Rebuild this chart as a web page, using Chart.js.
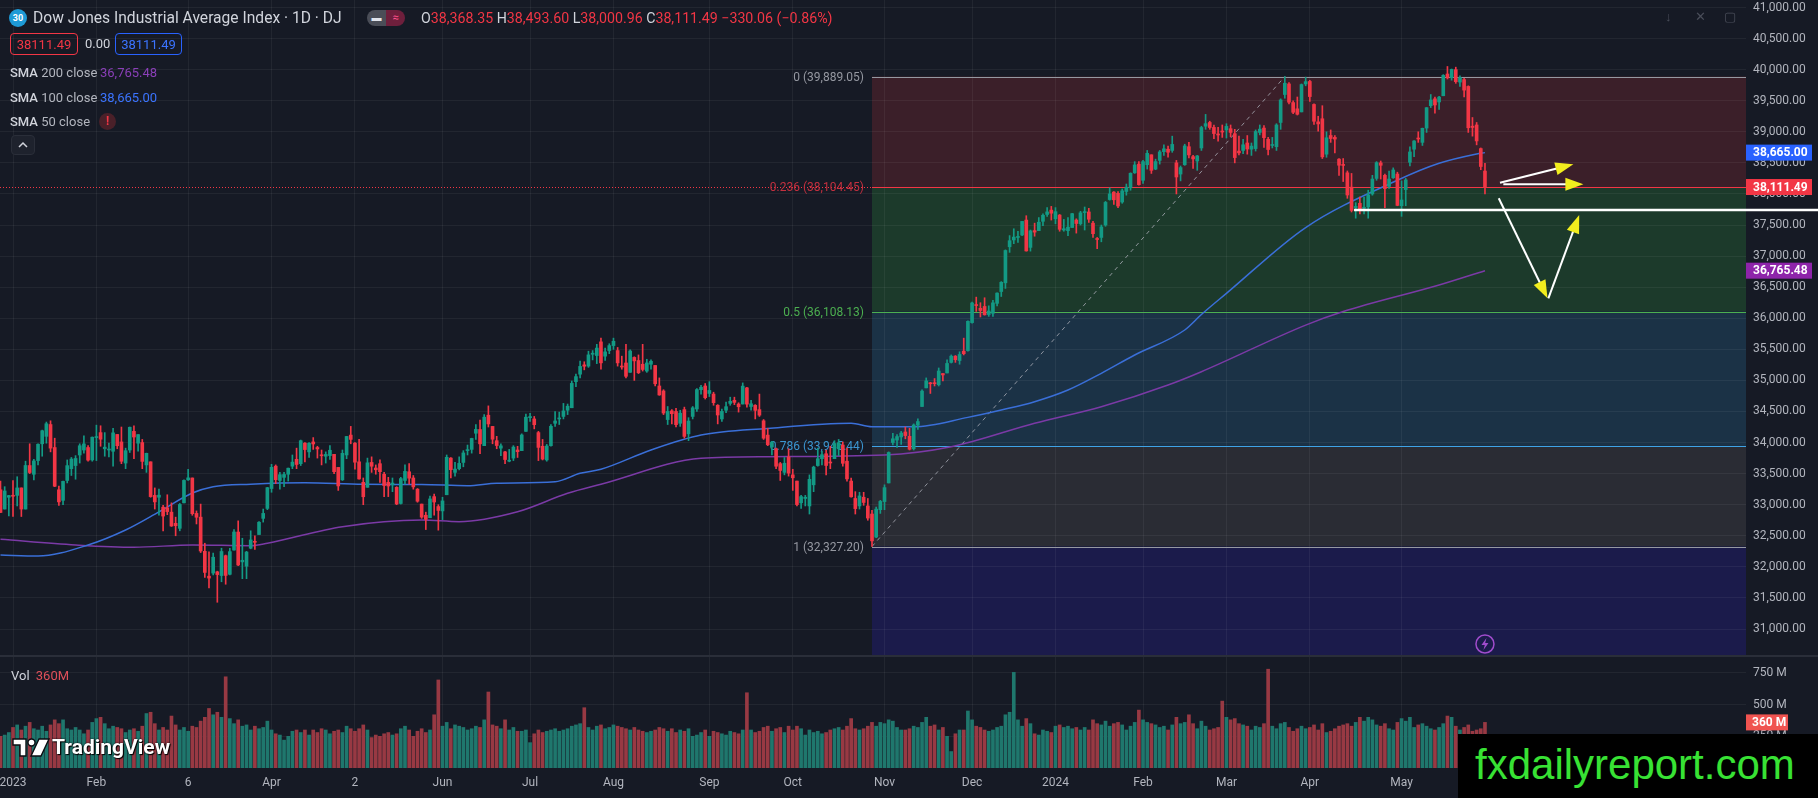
<!DOCTYPE html>
<html>
<head>
<meta charset="utf-8">
<title>Dow Jones Industrial Average Index · 1D · DJ</title>
<script src="https://cdn.jsdelivr.net/npm/chart.js@4.4.1/dist/chart.umd.min.js"></script>
<style>
  html, body { margin: 0; padding: 0; background: #161a25; overflow: hidden; }
  body { width: 1818px; height: 798px; position: relative; font-family: Roboto, "Noto Sans", sans-serif; color: #d1d4dc; }
  canvas { position: absolute; left: 0; }
  #priceCanvas { top: 0; }
  #volCanvas { top: 657px; }
  .abs { position: absolute; white-space: nowrap; }
  .dn { color: #f23645; }
  .sym { width: 18px; height: 18px; border-radius: 50%; background: #1e9ad6; color: #fff; font: bold 9px Roboto; text-align: center; line-height: 18px; }
  .pbox { height: 22px; line-height: 22px; border-radius: 4px; font-size: 13px; text-align: center; box-sizing: border-box; }
  .sma { left: 10px; font-size: 13px; line-height: 18px; color: #b2b5be; }
  .sma b { font-weight: 500; color: #d1d4dc; }
  .icon { color: #4a4e5a; font-size: 13px; }
</style>
</head>
<body>
<canvas id="priceCanvas" width="1818" height="657"></canvas>
<canvas id="volCanvas" width="1818" height="141"></canvas>

<!-- legend -->
<div class="abs sym" style="left:9px;top:9px;">30</div>
<div class="abs" style="left:33px;top:8px;font-size:15.6px;line-height:20px;">Dow Jones Industrial Average Index · 1D · DJ</div>
<div class="abs" style="left:367px;top:10px;width:38px;height:16px;border-radius:8px;overflow:hidden;display:flex;">
  <span style="flex:1;background:#4a4d57;color:#e0e3eb;font-size:10px;line-height:16px;text-align:center;">▬</span>
  <span style="flex:1;background:#6e1f3c;color:#ff4f8b;font-size:11px;line-height:16px;text-align:center;">≈</span>
</div>
<div class="abs" style="left:421px;top:9px;font-size:14.2px;line-height:18px;">O<span class="dn">38,368.35</span> H<span class="dn">38,493.60</span> L<span class="dn">38,000.96</span> C<span class="dn">38,111.49</span> <span class="dn">−330.06 (−0.86%)</span></div>

<div class="abs pbox" style="left:10px;top:33px;width:68px;border:1px solid #f23645;color:#f23645;">38111.49</div>
<div class="abs" style="left:85px;top:33px;font-size:13px;line-height:22px;">0.00</div>
<div class="abs pbox" style="left:115px;top:33px;width:67px;border:1px solid #2962ff;color:#3b74ff;">38111.49</div>

<div class="abs sma" style="top:64px;"><b>SMA</b> 200 close</div>
<div class="abs" style="left:100px;top:64px;font-size:13px;line-height:18px;color:#8a3fb8;">36,765.48</div>
<div class="abs sma" style="top:89px;"><b>SMA</b> 100 close</div>
<div class="abs" style="left:100px;top:89px;font-size:13px;line-height:18px;color:#3b74ff;">38,665.00</div>
<div class="abs sma" style="top:113px;"><b>SMA</b> 50 close</div>
<div class="abs" style="left:99px;top:113px;width:17px;height:17px;border-radius:50%;background:#4a2029;color:#f23645;font:bold 12px Roboto;line-height:17px;text-align:center;">!</div>
<div class="abs" style="left:11px;top:135px;width:24px;height:20px;border-radius:4px;background:#1e222d;border:1px solid #2a2e39;box-sizing:border-box;">
  <svg width="22" height="18" viewBox="0 0 22 18"><path d="M7 11 L11 7 L15 11" fill="none" stroke="#d1d4dc" stroke-width="1.5"/></svg>
</div>

<div class="abs icon" style="left:1665px;top:9px;">↓</div>
<div class="abs icon" style="left:1695px;top:9px;">✕</div>
<div class="abs icon" style="left:1724px;top:9px;">▢</div>

<!-- volume legend -->
<div class="abs" style="left:11px;top:667px;font-size:13px;line-height:18px;">Vol <span style="color:#e0505a;margin-left:3px;">360M</span></div>

<!-- TradingView mark -->
<div class="abs" style="left:12px;top:736px;height:22px;display:flex;align-items:center;">
  <svg width="38" height="20" viewBox="0 0 38 20">
    <path d="M1 2h13v17H8V8H1z" fill="#fff" stroke="#0b0d12" stroke-width="1.4"/>
    <circle cx="19.5" cy="5.5" r="3.5" fill="#fff" stroke="#0b0d12" stroke-width="1.4"/>
    <path d="M27 2h10l-8 17H19z" fill="#fff" stroke="#0b0d12" stroke-width="1.4"/>
  </svg>
  <span style="font:bold 21px Roboto;color:#fff;margin-left:2px;text-shadow:0 0 2px #000,1px 1px 1px #000;">TradingView</span>
</div>

<!-- watermark -->
<div class="abs" style="left:1458px;top:734px;width:360px;height:64px;background:#000;">
  <div style="position:absolute;left:17px;top:4px;font:42px 'Liberation Sans', Arial, sans-serif;line-height:54px;color:#38e234;">fxdailyreport.com</div>
</div>

<script>
// Dow Jones daily candles, 28 Dec 2022 .. 30 May 2024 (index 0 = 3 Jan 2023)
const firstDay = -3;

const opens = [
  33240, 32930, 33120,
  33150, 33150, 33270, 32930, 33630, 33490, 33710, 33980, 34100, 34290, 33920, 33240, 33070, 33390, 33580, 33630, 33800, 33880, 33920, 33720,
  34080, 34160, 33900, 33880, 33860, 34130, 34010, 33670, 33880, 34180, 33990, 34000, 33640, 33690, 33150, 33120, 32960, 32950, 32880,
  32700, 32620, 33030, 33400, 33430, 32860, 32800, 32250, 31850, 31900, 31920, 31860, 32180, 31880, 32270, 32560, 32080, 32010, 32300, 32400, 32520, 32780, 32940,
  33260, 33620, 33390, 33440, 33490, 33620, 33730, 33660, 33990, 33850, 34010, 33920, 33790, 33780, 33790, 33810, 33600, 33400, 33800,
  34120, 33990, 33690, 33360, 33280, 33680, 33590, 33660, 33490, 33360, 33320, 33280, 33020, 33390, 33530, 33430, 33250, 33010, 32830, 32790, 33130, 32970,
  32900, 33160, 33750, 33520, 33580, 33680, 33870, 33890, 34150, 34210, 33950, 34440, 34260, 34030, 33910, 33850, 33700, 33750, 33880, 33870, 34180,
  34400, 34380, 34160, 33940, 33720, 33950, 34310, 34380, 34420, 34520, 34560, 34980, 35100, 35250, 35230, 35420, 35400, 35620, 35390, 35480,
  35560, 35480, 35230, 35280, 35130, 35370, 35320, 35260, 35150, 35260, 35240, 34910, 34830, 34370, 34510, 34500, 34310, 34530, 34140, 34420, 34540, 34850, 34910,
  34790, 34780, 34600, 34380, 34520, 34630, 34680, 34620, 34620, 34880, 34580, 34600, 34530, 34350, 34120, 33930, 33900, 33660, 33520, 33770,
  33480, 33380, 33030, 33100, 32980, 33320, 33630, 33740, 33820, 33680, 33740, 33900, 33960, 33700, 33380, 33100, 32980, 33120, 32980, 32850, 32480, 32920,
  33050, 33350, 34000, 34040, 34090, 34170, 34100, 33900, 34280, 34580, 34880, 34960, 34950, 34930, 35110, 35120, 35290, 35390, 35320, 35470, 35480,
  35930, 36220, 36160, 36190, 36060, 36080, 36240, 36430, 36570, 37150, 37260, 37300, 37340, 37580, 37140, 37410, 37410, 37560, 37670, 37740,
  37600, 37660, 37420, 37410, 37460, 37580, 37520, 37700, 37710, 37530, 37280, 37300, 37500, 37910, 38030, 38010, 37870, 38040, 38100, 38340, 38480,
  38220, 38470, 38630, 38400, 38540, 38680, 38720, 38700, 38500, 38320, 38470, 38760, 38600, 38530, 38740, 39090, 39150, 39070, 38950, 39000,
  39030, 39050, 38970, 38690, 38700, 38820, 38720, 38730, 38990, 39060, 38880, 38780, 38760, 39150, 39600, 39770, 39470, 39370, 39320, 39770,
  39810, 39440, 39160, 39210, 38640, 38940, 38910, 38560, 38470, 38340, 38110, 37780, 37850, 37770, 37790, 38000, 38250, 38500, 38300, 38120, 38260, 38320,
  37810, 38070, 38510, 38720, 38890, 38830, 39060, 39420, 39530, 39480, 39580, 39930, 39870, 40000, 39800, 39840, 39730, 39090, 39110, 38730, 38368.35
];
const highs = [
  33380, 33290, 33150,
  33390, 33450, 33270, 33700, 33980, 33730, 33980, 34200, 34330, 34350, 34070, 33300, 33380, 33720, 33760, 33790, 33980, 34110, 33950, 34090,
  34280, 34270, 34160, 33990, 34230, 34130, 34250, 33910, 34250, 34270, 34130, 34050, 33830, 33690, 33270, 33250, 32990, 33160, 33030,
  32800, 33020, 33400, 33570, 33430, 32900, 33010, 32380, 32240, 32220, 31930, 32300, 32190, 32300, 32600, 32740, 32460, 32250, 32580, 32500, 32730, 32930, 33280,
  33650, 33640, 33520, 33520, 33590, 33800, 33910, 34040, 34000, 34000, 34080, 33940, 33880, 33850, 33950, 33810, 33600, 33880, 34100,
  34260, 34000, 34050, 33430, 33750, 33770, 33640, 33720, 33520, 33440, 33430, 33290, 33440, 33640, 33660, 33470, 33260, 33010, 32880, 33140, 33170, 33000,
  33120, 33800, 33760, 33680, 33770, 33870, 33960, 34070, 34290, 34360, 34450, 34590, 34260, 34100, 33980, 33860, 33890, 33950, 33940, 34140, 34460,
  34470, 34420, 34180, 34050, 33970, 34290, 34500, 34490, 34630, 34620, 34990, 35100, 35310, 35300, 35470, 35480, 35580, 35680, 35520, 35590,
  35680, 35530, 35390, 35580, 35490, 35380, 35410, 35580, 35340, 35330, 35240, 35040, 34850, 34580, 34530, 34550, 34520, 34570, 34400, 34580, 34870, 34920, 34950,
  34980, 34810, 34610, 34540, 34650, 34730, 34730, 34640, 34960, 34890, 34680, 34610, 34780, 34370, 34230, 34020, 33910, 33680, 33760, 33900,
  33570, 33380, 33150, 33150, 33480, 33620, 33910, 33860, 33880, 33940, 34030, 34050, 34010, 33910, 33430, 33210, 33200, 33200, 33100, 32910, 32960, 33070,
  33320, 33850, 34150, 34130, 34180, 34250, 34230, 34300, 34380, 34850, 35040, 34970, 35030, 35200, 35110, 35330, 35410, 35400, 35460, 35680, 35960,
  36260, 36340, 36250, 36330, 36200, 36290, 36410, 36590, 37100, 37330, 37440, 37400, 37560, 37650, 37420, 37530, 37620, 37680, 37780, 37800,
  37780, 37670, 37590, 37620, 37690, 37600, 37720, 37790, 37770, 37560, 37300, 37500, 37880, 38100, 38040, 38040, 38080, 38160, 38340, 38520, 38520,
  38540, 38700, 38630, 38560, 38700, 38790, 38770, 38930, 38540, 38450, 38800, 38830, 38620, 38620, 39090, 39280, 39170, 39110, 39070, 39110,
  39130, 39110, 39040, 38930, 38880, 38940, 38820, 39030, 39110, 39100, 38910, 38910, 39130, 39530, 39889, 39790, 39500, 39560, 39770, 39880,
  39830, 39450, 39250, 39420, 39000, 39030, 38940, 38570, 38570, 38370, 38330, 37860, 37950, 37950, 38060, 38300, 38520, 38530, 38320, 38370, 38420, 38350,
  38210, 38250, 38760, 38860, 39000, 39060, 39390, 39600, 39560, 39570, 39920, 40051, 40010, 40040, 39900, 39860, 39740, 39230, 39150, 38740, 38493.6
];
const lows = [
  32870, 32930, 32820,
  32810, 32980, 32810, 32930, 33500, 33400, 33640, 33780, 33990, 33850, 33290, 32990, 33000, 33350, 33470, 33410, 33670, 33830, 33700, 33700,
  33710, 33940, 33780, 33770, 33620, 33900, 33660, 33580, 33840, 33740, 33860, 33580, 33520, 33120, 32930, 32830, 32580, 32840, 32650,
  32500, 32580, 33030, 33390, 32830, 32690, 32230, 31830, 31660, 31870, 31430, 31760, 31720, 31870, 32270, 32020, 31810, 31810, 32290, 32280, 32520, 32720, 32920,
  33200, 33340, 33250, 33290, 33380, 33580, 33580, 33630, 33690, 33760, 33890, 33750, 33640, 33670, 33730, 33500, 33230, 33390, 33740,
  33980, 33570, 33410, 33000, 33280, 33520, 33490, 33360, 33130, 33130, 33210, 33000, 33010, 33330, 33330, 33250, 33040, 32780, 32600, 32790, 32830, 32590,
  32760, 33160, 33430, 33460, 33560, 33610, 33800, 33830, 34050, 33820, 33950, 34250, 33980, 33900, 33790, 33660, 33690, 33710, 33760, 33870, 34180,
  34340, 34220, 33710, 33720, 33700, 33940, 34260, 34290, 34380, 34450, 34560, 34900, 35040, 35170, 35210, 35330, 35270, 35180, 35320, 35430,
  35500, 35230, 35180, 35040, 35130, 35000, 35110, 35150, 35130, 35180, 34910, 34760, 34450, 34290, 34300, 34250, 34260, 34070, 34030, 34380, 34500, 34780, 34700,
  34740, 34600, 34300, 34340, 34480, 34600, 34610, 34490, 34620, 34570, 34520, 34380, 34420, 34050, 33950, 33800, 33580, 33390, 33480, 33460,
  33230, 32980, 32940, 32980, 32850, 33210, 33620, 33640, 33480, 33580, 33740, 33790, 33620, 33380, 33120, 32850, 32930, 32990, 32750, 32327, 32470, 32860,
  32920, 33350, 33960, 33920, 33970, 34060, 33880, 33880, 34210, 34580, 34880, 34790, 34910, 34910, 34990, 35120, 35280, 35290, 35260, 35410, 35470,
  35920, 36110, 36020, 36050, 36030, 36030, 36200, 36350, 36480, 37060, 37200, 37220, 37330, 37080, 37080, 37320, 37410, 37490, 37640, 37580,
  37520, 37400, 37400, 37330, 37460, 37370, 37500, 37420, 37540, 37300, 37120, 37230, 37480, 37900, 37830, 37780, 37850, 37980, 38060, 38330, 38140,
  38170, 38400, 38330, 38390, 38480, 38620, 38590, 38670, 38000, 38210, 38460, 38580, 38410, 38380, 38700, 39040, 39040, 38890, 38850, 38910,
  38900, 38920, 38500, 38630, 38650, 38640, 38620, 38690, 38950, 38750, 38630, 38740, 38700, 39040, 39540, 39450, 39290, 39270, 39320, 39740,
  39490, 39120, 39010, 38570, 38590, 38830, 38660, 38300, 38200, 37930, 37710, 37610, 37680, 37680, 37610, 37980, 38220, 38240, 37780, 38090, 38250, 37810,
  37640, 37810, 38450, 38600, 38830, 38780, 38990, 39390, 39300, 39360, 39580, 39850, 39830, 39780, 39730, 39560, 38990, 38930, 38790, 38390, 38000.96
];
const closes = [
  32875, 33221, 33147,
  33136, 33270, 32930, 33631, 33518, 33704, 33973, 34190, 34303, 33910, 33297, 33045, 33375, 33629, 33734, 33744, 33949, 33978, 33717, 34086,
  34093, 34054, 33926, 33891, 34156, 33949, 33699, 33869, 34246, 34089, 34128, 33697, 33827, 33130, 33045, 33154, 32817, 32889, 32657,
  32662, 33004, 33391, 33432, 32856, 32798, 32255, 31910, 31819, 32155, 31875, 32247, 31862, 32245, 32561, 32030, 32106, 32238, 32433, 32395, 32718, 32860, 33274,
  33601, 33403, 33483, 33486, 33587, 33685, 33647, 34030, 33887, 33988, 33977, 33897, 33787, 33809, 33876, 33531, 33302, 33827, 34098,
  34051, 33684, 33414, 33128, 33674, 33619, 33562, 33531, 33309, 33301, 33349, 33012, 33420, 33536, 33427, 33287, 33056, 32800, 32765, 33093, 33043, 32908,
  33061, 33763, 33563, 33573, 33665, 33833, 33877, 34066, 34212, 33979, 34408, 34299, 34054, 33952, 33947, 33727, 33714, 33927, 33853, 34122, 34408,
  34418, 34288, 33922, 33734, 33944, 34262, 34347, 34395, 34509, 34585, 34952, 35061, 35225, 35228, 35411, 35438, 35520, 35282, 35459, 35560,
  35630, 35282, 35215, 35066, 35473, 35314, 35123, 35176, 35281, 35308, 34946, 34766, 34475, 34501, 34464, 34288, 34473, 34099, 34346, 34559, 34852, 34890, 34722,
  34838, 34642, 34443, 34501, 34577, 34664, 34646, 34576, 34908, 34618, 34624, 34518, 34441, 34070, 33964, 34007, 33619, 33551, 33667, 33508,
  33433, 33002, 33130, 33120, 33408, 33605, 33740, 33805, 33631, 33671, 33985, 33998, 33666, 33415, 33127, 32937, 33141, 33036, 32785, 32418, 32929, 33053,
  33275, 33840, 34061, 34096, 34153, 34112, 33892, 34283, 34338, 34828, 34992, 34946, 34947, 35151, 35088, 35273, 35390, 35333, 35417, 35430, 35951,
  36246, 36204, 36125, 36055, 36117, 36248, 36405, 36578, 37090, 37248, 37306, 37307, 37558, 37083, 37405, 37386, 37545, 37657, 37711, 37690,
  37715, 37431, 37440, 37466, 37683, 37525, 37696, 37711, 37593, 37361, 37267, 37469, 37864, 38001, 37906, 37806, 38050, 38109, 38333, 38467, 38150,
  38520, 38654, 38380, 38521, 38677, 38726, 38671, 38797, 38273, 38424, 38773, 38628, 38564, 38612, 39069, 39131, 39069, 38972, 38949, 38996,
  39087, 38990, 38585, 38661, 38791, 38723, 38770, 39005, 39043, 38906, 38715, 38790, 39110, 39512, 39781, 39476, 39314, 39282, 39760, 39807,
  39567, 39170, 39127, 38597, 38904, 38892, 38883, 38462, 38459, 37983, 37735, 37799, 37753, 37775, 37986, 38240, 38504, 38461, 38086, 38240, 38386, 37816,
  37903, 38226, 38676, 38852, 38884, 39056, 39388, 39513, 39432, 39558, 39908, 39869, 40004, 39807, 39873, 39671, 39065, 39070, 38853, 38441.55, 38111.49
];
// volume in millions
const volumes = [
  250, 260, 280,
  320, 340, 300, 330, 360, 310, 300, 330, 290, 340, 380, 350, 380, 310, 300, 320, 300, 270, 300, 360,
  390, 400, 350, 310, 330, 320, 310, 280, 300, 310, 290, 330, 430, 440, 350, 300, 320, 300, 410,
  340, 300, 320, 290, 330, 320, 370, 400, 470, 420, 440, 400, 720, 390, 350, 380, 330, 340, 300, 330, 310, 320, 370,
  300, 270, 260, 220, 250, 290, 300, 280, 300, 260, 300, 280, 310, 300, 270, 290, 300, 280, 330,
  310, 290, 310, 340, 300, 240, 260, 250, 270, 280, 260, 270, 310, 330, 300, 250, 290, 310, 280, 300, 420, 695,
  330, 360, 310, 340, 330, 320, 300, 310, 330, 320, 380, 600, 340, 330, 310, 380, 300, 320, 290, 290, 300,
  200, 270, 300, 280, 290, 300, 310, 290, 300, 310, 330, 340, 350, 476, 320, 300, 330, 340, 310, 320,
  340, 330, 320, 310, 300, 320, 300, 290, 280, 290, 300, 320, 310, 290, 310, 280, 300, 290, 310, 250, 260, 280, 300,
  250, 290, 280, 270, 260, 290, 280, 270, 300, 594, 300, 280, 290, 320, 330, 290, 310, 320, 280, 330,
  300, 330, 310, 260, 300, 280, 290, 270, 280, 300, 310, 320, 300, 330, 390, 310, 300, 310, 330, 360, 330, 360,
  350, 380, 370, 320, 300, 300, 310, 330, 320, 360, 400, 330, 340, 300, 320, 250, 130, 270, 300, 300, 450,
  380, 330, 320, 300, 290, 300, 320, 330, 420, 440, 755, 380, 330, 390, 350, 270, 260, 300, 290, 280,
  330, 340, 320, 330, 310, 320, 300, 320, 300, 380, 350, 340, 370, 330, 350, 360, 340, 300, 330, 360, 457,
  380, 360, 350, 340, 320, 330, 300, 340, 400, 350, 360, 420, 350, 310, 370, 330, 300, 310, 320, 528,
  400, 380, 390, 350, 340, 330, 300, 330, 320, 350, 780, 330, 310, 350, 360, 320, 290, 310, 330, 310,
  320, 340, 300, 350, 280, 290, 310, 330, 340, 350, 330, 360, 400, 370, 400, 380, 340, 330, 350, 310, 300, 360,
  390, 370, 400, 320, 340, 350, 330, 310, 300, 320, 350, 410, 400, 330, 300, 320, 340, 290, 300, 310, 360
];

// time axis: session index of each label
const tickIdx = [0, 20, 42, 62, 82, 103, 124, 144, 167, 187, 209, 230, 250, 271, 291, 311, 333];
const tickLabels = ['2023', 'Feb', '6', 'Apr', '2', 'Jun', 'Jul', 'Aug', 'Sep', 'Oct', 'Nov', 'Dec', '2024', 'Feb', 'Mar', 'Apr', 'May'];
// price axis labels
const priceTicks = [31000, 31500, 32000, 32500, 33000, 33500, 34000, 34500, 35000, 35500, 36000, 36500, 37000, 37500, 38000, 38500, 39000, 39500, 40000, 40500, 41000];
const volTicks = [250, 500, 750];

// moving averages
const sma100Idx = [-3, 6, 18, 27, 35, 43, 48, 57, 70, 84, 98, 109, 116, 130, 136, 141, 153, 165, 181, 201, 206, 216, 229, 237, 245, 253, 261, 269, 281, 285, 291, 310, 332, 342, 351, 353];
const sma100Vals = [32191, 32175, 32352, 32593, 32885, 33188, 33290, 33330, 33354, 33328, 33325, 33306, 33345, 33370, 33505, 33570, 33880, 34120, 34228, 34310, 34255, 34255, 34405, 34524, 34657, 34845, 35114, 35409, 35811, 36060, 36400, 37460, 38220, 38493, 38643, 38665];
const sma200Idx = [-3, 15, 29, 43, 57, 61, 79, 98, 107, 121, 133, 141, 165, 181, 209, 225, 245, 261, 277, 285, 310, 319, 342, 353];
const sma200Vals = [32443, 32352, 32315, 32352, 32340, 32380, 32647, 32754, 32727, 32887, 33183, 33328, 33746, 33773, 33800, 33933, 34310, 34577, 34926, 35140, 35890, 36108, 36535, 36765.48];

// fibonacci retracement drawn from the 27 Oct low to the 21 Mar high
const fibHigh = 39889.05, fibLow = 32327.20, fibStart = 206, fibEnd = 305;
const fibLevels = [0, 0.236, 0.5, 0.786, 1];

// hand drawn marks (session index, price)
const supportFrom = 321.6, supportPrice = 37742;
const arrows = [
  [356.6, 38181, 374.2, 38477],
  [357.4, 38155, 376.6, 38155],
  [356.3, 37930, 368.0, 36321],
  [368.2, 36321, 375.6, 37661]
];

// ---- styling ----
const UP = '#139a85', DOWN = '#f23645';
const VOL_UP = '#1f776d', VOL_DOWN = '#983943';
const GRID = 'rgba(255,255,255,0.055)';
const TICK_FONT = { family: 'Roboto', size: 12 };
const AXIS_W = 72;
const X_MIN = -3.12, X_MAX = 415.6;
const P_MIN = 30549.5, P_MAX = 41120.7;
const fibLine = ['#9598a1', '#f23645', '#4caf50', '#3fa3e6', '#9598a1'];
const fibText = ['#9598a1', '#c4303f', '#4caf50', '#3b95d0', '#9598a1'];
const fibFill = ['#3b1f29', '#1c3a2b', '#1b3246', '#2a2c34', '#1b1b4b'];

const fmt = v => v.toLocaleString('en-US', { minimumFractionDigits: 2, maximumFractionDigits: 2 });
const days = closes.map((c, i) => i + firstDay);
const candleColor = closes.map((c, i) => c >= opens[i] ? UP : DOWN);
const volColor = closes.map((c, i) => c >= opens[i] ? VOL_UP : VOL_DOWN);
const fibPrices = fibLevels.map(l => fibHigh - l * (fibHigh - fibLow));

function xAxis(showLabels) {
  return {
    type: 'linear', min: X_MIN, max: X_MAX, offset: false,
    grid: { color: GRID, drawTicks: false, offset: false },
    border: { display: false },
    ticks: {
      display: showLabels, autoSkip: false, maxRotation: 0, padding: 8,
      color: '#b2b5be', font: TICK_FONT,
      callback: v => tickLabels[tickIdx.indexOf(v)]
    },
    afterBuildTicks: s => { s.ticks = tickIdx.map(v => ({ value: v })); },
    afterFit: s => { s.height = showLabels ? 30 : 0; s.paddingLeft = 0; s.paddingRight = 0; }
  };
}

function drawArrow(ctx, x1, y1, x2, y2) {
  const ang = Math.atan2(y2 - y1, x2 - x1), L = 18, W = 6.5;
  const bx = x2 - L * Math.cos(ang), by = y2 - L * Math.sin(ang);
  ctx.strokeStyle = '#ffffff';
  ctx.lineWidth = 2;
  ctx.beginPath(); ctx.moveTo(x1, y1); ctx.lineTo(bx + 4 * Math.cos(ang), by + 4 * Math.sin(ang)); ctx.stroke();
  ctx.fillStyle = '#f2ee1e';
  ctx.beginPath();
  ctx.moveTo(x2, y2);
  ctx.lineTo(bx + W * Math.sin(ang), by - W * Math.cos(ang));
  ctx.lineTo(bx - W * Math.sin(ang), by + W * Math.cos(ang));
  ctx.closePath(); ctx.fill();
}

const fibPlugin = {
  id: 'fib',
  beforeDraw(chart) {
    const { ctx, chartArea: a, scales: { x, y } } = chart;
    const x0 = x.getPixelForValue(fibStart);
    ctx.save();
    fibPrices.forEach((p, k) => {
      const top = y.getPixelForValue(p);
      const bot = k + 1 < fibPrices.length ? y.getPixelForValue(fibPrices[k + 1]) : a.bottom;
      ctx.fillStyle = fibFill[k];
      ctx.fillRect(x0, top, a.right - x0, bot - top);
    });
    ctx.restore();
  },
  beforeDatasetsDraw(chart) {
    const { ctx, chartArea: a, scales: { x, y } } = chart;
    const x0 = x.getPixelForValue(fibStart);
    ctx.save();
    // last price dotted line
    const ly = Math.round(y.getPixelForValue(closes[closes.length - 1])) + 0.5;
    ctx.strokeStyle = '#f23645'; ctx.lineWidth = 1; ctx.setLineDash([1, 2]);
    ctx.beginPath(); ctx.moveTo(a.left, ly); ctx.lineTo(x0, ly); ctx.stroke();
    // trend line between the anchors
    ctx.strokeStyle = 'rgba(170,173,182,0.8)'; ctx.setLineDash([4, 4]);
    ctx.beginPath();
    ctx.moveTo(x0, y.getPixelForValue(fibLow));
    ctx.lineTo(x.getPixelForValue(fibEnd), y.getPixelForValue(fibHigh));
    ctx.stroke();
    ctx.setLineDash([]);
    // levels
    ctx.font = '12px Roboto';
    ctx.textAlign = 'right'; ctx.textBaseline = 'middle';
    fibPrices.forEach((p, k) => {
      const py = Math.round(y.getPixelForValue(p)) + 0.5;
      ctx.strokeStyle = fibLine[k]; ctx.lineWidth = 1.2;
      ctx.beginPath(); ctx.moveTo(x0, py); ctx.lineTo(a.right, py); ctx.stroke();
      ctx.fillStyle = fibText[k];
      ctx.fillText(fibLevels[k] + ' (' + fmt(p) + ')', x0 - 8, py);
    });
    ctx.restore();
  },
  afterDraw(chart) {
    const { ctx, chartArea: a, scales: { x, y } } = chart;
    ctx.save();
    // pane separator
    ctx.strokeStyle = '#2a2e39'; ctx.lineWidth = 2;
    ctx.beginPath(); ctx.moveTo(0, chart.height - 1); ctx.lineTo(chart.width, chart.height - 1); ctx.stroke();
    // support line
    const sy = y.getPixelForValue(supportPrice);
    ctx.strokeStyle = '#ffffff'; ctx.lineWidth = 2.5;
    ctx.beginPath(); ctx.moveTo(x.getPixelForValue(supportFrom), sy); ctx.lineTo(chart.width, sy); ctx.stroke();
    arrows.forEach(([i1, p1, i2, p2]) =>
      drawArrow(ctx, x.getPixelForValue(i1), y.getPixelForValue(p1), x.getPixelForValue(i2), y.getPixelForValue(p2)));
    // price tags on the axis
    const tags = [[sma100Vals[sma100Vals.length - 1], '#2962ff'], [closes[closes.length - 1], '#f23645'], [sma200Vals[sma200Vals.length - 1], '#8e24aa']];
    ctx.font = 'bold 12px Roboto'; ctx.textAlign = 'left'; ctx.textBaseline = 'middle';
    tags.forEach(([v, c]) => {
      const ty = y.getPixelForValue(v);
      ctx.fillStyle = c;
      ctx.fillRect(a.right, ty - 8, 66, 16);
      ctx.fillStyle = '#ffffff';
      ctx.fillText(fmt(v), a.right + 7, ty + 0.5);
    });
    // lightning badge under the last bar
    const lx = x.getPixelForValue(days[days.length - 1]), lyy = a.bottom - 13;
    ctx.strokeStyle = '#a04ccc'; ctx.lineWidth = 1.5;
    ctx.beginPath(); ctx.arc(lx, lyy, 9, 0, Math.PI * 2); ctx.stroke();
    ctx.fillStyle = '#a04ccc';
    ctx.beginPath();
    ctx.moveTo(lx + 1.5, lyy - 6); ctx.lineTo(lx - 3.5, lyy + 1); ctx.lineTo(lx - 0.2, lyy + 1);
    ctx.lineTo(lx - 1.5, lyy + 6); ctx.lineTo(lx + 3.5, lyy - 1); ctx.lineTo(lx + 0.2, lyy - 1);
    ctx.closePath(); ctx.fill();
    ctx.restore();
  }
};

new Chart(document.getElementById('priceCanvas'), {
  type: 'bar',
  data: {
    datasets: [
      {
        type: 'line', label: 'SMA 200',
        data: sma200Idx.map((d, i) => ({ x: d, y: sma200Vals[i] })),
        borderColor: '#7b3aa6', borderWidth: 1.5, pointRadius: 0,
        cubicInterpolationMode: 'monotone', order: 10
      },
      {
        type: 'line', label: 'SMA 100',
        data: sma100Idx.map((d, i) => ({ x: d, y: sma100Vals[i] })),
        borderColor: '#3a6fd8', borderWidth: 1.5, pointRadius: 0,
        cubicInterpolationMode: 'monotone', order: 9
      },
      {
        label: 'wicks',
        data: days.map((d, i) => ({ x: d, y: [lows[i], highs[i]] })),
        backgroundColor: candleColor, barThickness: 1, grouped: false, order: 2
      },
      {
        label: 'bodies',
        data: days.map((d, i) => ({ x: d, y: [opens[i], closes[i]] })),
        backgroundColor: candleColor, barThickness: 3, grouped: false, minBarLength: 1, order: 1
      }
    ]
  },
  options: {
    responsive: false, animation: false, devicePixelRatio: 1,
    layout: { padding: 0 },
    plugins: { legend: { display: false }, tooltip: { enabled: false } },
    scales: {
      x: xAxis(false),
      y: {
        type: 'linear', position: 'right', min: P_MIN, max: P_MAX, beginAtZero: false,
        grid: { color: GRID, drawTicks: false }, border: { display: false },
        ticks: { padding: 7, color: '#b2b5be', font: TICK_FONT, callback: v => fmt(v) },
        afterBuildTicks: s => { s.ticks = priceTicks.map(v => ({ value: v })); },
        afterFit: s => { s.width = AXIS_W; s.paddingTop = 0; s.paddingBottom = 0; }
      }
    }
  },
  plugins: [fibPlugin]
});

const volTag = {
  id: 'volTag',
  afterDraw(chart) {
    const { ctx, chartArea: a, scales: { y } } = chart;
    const v = volumes[volumes.length - 1];
    const ty = y.getPixelForValue(v);
    ctx.save();
    ctx.fillStyle = '#f05350';
    ctx.fillRect(a.right, ty - 8, 42, 16);
    ctx.fillStyle = '#ffffff'; ctx.font = 'bold 12px Roboto';
    ctx.textAlign = 'left'; ctx.textBaseline = 'middle';
    ctx.fillText(v + ' M', a.right + 6, ty + 0.5);
    ctx.restore();
  }
};

new Chart(document.getElementById('volCanvas'), {
  type: 'bar',
  data: {
    datasets: [{
      label: 'Vol',
      data: days.map((d, i) => ({ x: d, y: volumes[i] })),
      backgroundColor: volColor, barThickness: 3, grouped: false
    }]
  },
  options: {
    responsive: false, animation: false, devicePixelRatio: 1,
    layout: { padding: 0 },
    plugins: { legend: { display: false }, tooltip: { enabled: false } },
    scales: {
      x: xAxis(true),
      y: {
        type: 'linear', position: 'right', min: 0, max: 876.3,
        grid: { color: GRID, drawTicks: false }, border: { display: false },
        ticks: { padding: 7, color: '#b2b5be', font: TICK_FONT, callback: v => v + ' M' },
        afterBuildTicks: s => { s.ticks = volTicks.map(v => ({ value: v })); },
        afterFit: s => { s.width = AXIS_W; s.paddingTop = 0; s.paddingBottom = 0; }
      }
    }
  },
  plugins: [volTag]
});
</script>
</body>
</html>
